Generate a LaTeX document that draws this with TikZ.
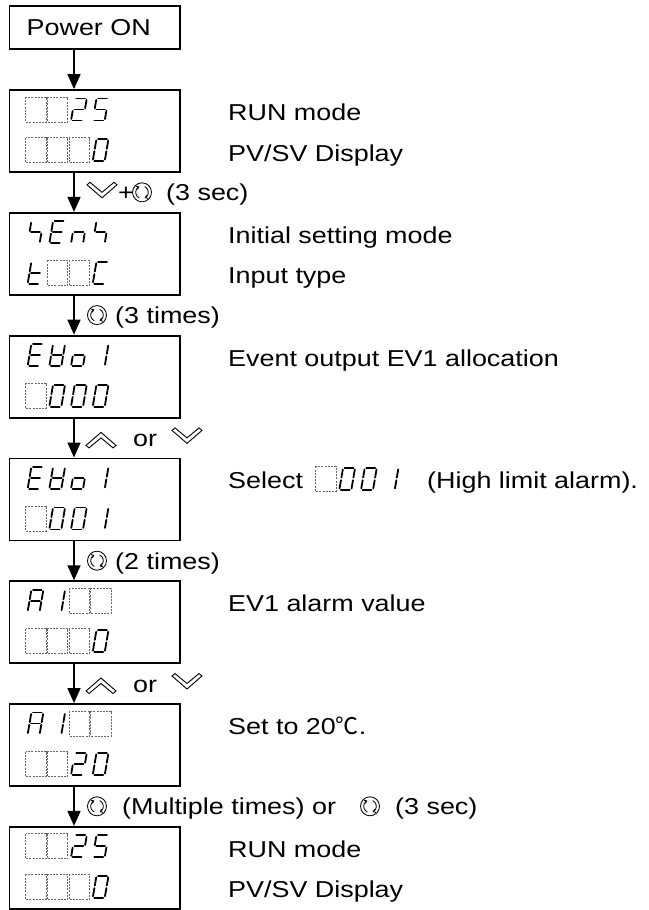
\documentclass[tikz,border=0pt]{standalone}
\usepackage{fontspec}
\setmainfont{Liberation Sans}[FakeStretch=1.17]
\newfontfamily\cjkfont{Noto Sans CJK JP}
\usetikzlibrary{arrows.meta}
\tikzset{
  box/.style={draw, line width=1.8pt, inner sep=0pt, minimum width=170.5pt},
  dispbox/.style={box, minimum height=82pt},
  arr/.style={line width=1.5pt, -{Triangle[length=15pt,width=13pt]}},
  lbl/.style={anchor=base west, inner sep=0pt, font=\fontsize{23}{27}\selectfont},
  seg/.style={line width=1.8pt, line cap=round},
  emptycell/.style={draw=black!60, line width=0.8pt, dash pattern=on 2pt off 1.2pt},
  chev/.style={line width=0.9pt, line join=miter},
  icon/.style={line width=0.85pt},
}
\newcommand\sega{\draw[seg] (-4.4,-11) -- (4.4,-11);}
\newcommand\segb{\draw[seg] (6,-9.5) -- (6,-1.3);}
\newcommand\segc{\draw[seg] (6,1.3) -- (6,9.5);}
\newcommand\segd{\draw[seg] (-4.4,11) -- (4.4,11);}
\newcommand\sege{\draw[seg] (-6,1.3) -- (-6,9.5);}
\newcommand\segf{\draw[seg] (-6,-9.5) -- (-6,-1.3);}
\newcommand\segg{\draw[seg] (-4.4,0) -- (4.4,0);}
\def\Dzero{a,b,c,d,e,f}
\def\Done{b,c}
\def\Dtwo{a,b,g,e,d}
\def\Dfive{a,f,g,c,d}
\def\DE{a,f,g,e,d}
\def\Dn{e,g,c}
\def\DS{f,g,c}
\def\Dt{f,e,g,d}
\def\DC{a,f,e,d}
\def\DV{b,c,d,e,f,g}
\def\Do{c,d,e,g}
\def\DA{a,b,c,e,f,g}
\newcommand\dgt[3]{\begin{scope}[shift={(#1,#2)},xslant=0.17]\edef\seglist{#3}\foreach \s in \seglist {\csname seg\s\endcsname}\end{scope}}
\newcommand\dd[4][25]{\pgfmathsetmacro\cx{#1+21.7*#2+10.5}\dgt{\cx}{#3}{#4}}
\newcommand\ee[3][25]{\pgfmathsetmacro\cx{#1+21.7*#2}\draw[emptycell] (\cx+0.6,#3-12.5) rectangle (\cx+21.1,#3+12.5);}
\newcommand\roticon[2]{\begin{scope}[shift={(#1,#2)}]
  \draw[icon] (0,0) circle[radius=9.5];
  \draw[icon,-{Straight Barb[length=2.2pt,width=3.5pt]}] (115:6.3) arc[start angle=115,end angle=245,radius=6.3];
  \draw[icon,-{Straight Barb[length=2.2pt,width=3.5pt]}] (295:6.3) arc[start angle=295,end angle=425,radius=6.3];
\end{scope}}
\newcommand\chevdown[2]{\draw[chev] (#1,#2-7.5) -- ++(15,13) -- ++(15,-13) -- ++(-3,-2.5) -- ++(-12,10) -- ++(-12,-10) -- cycle;}
\newcommand\chevup[2]{\draw[chev] (#1,#2+7.5) -- ++(15,-13) -- ++(15,13) -- ++(-3,2.5) -- ++(-12,-10) -- ++(-12,10) -- cycle;}
\begin{document}
\begin{tikzpicture}[x=1pt,y=-1pt]
\useasboundingbox (0,0) rectangle (648,910);
\coordinate (ax) at (74,0);
% boxes
\node[box, minimum height=42.5pt, font=\fontsize{23}{27}\selectfont] (b1) at (94.75,27.5) {\hspace*{-12pt}Power ON};
\node[dispbox] (b2) at (94.75,131) {};
\node[dispbox] (b3) at (94.75,253.8) {};
\node[dispbox] (b4) at (94.75,376.6) {};
\node[dispbox] (b5) at (94.75,499.4) {};
\node[dispbox] (b6) at (94.75,622.2) {};
\node[dispbox] (b7) at (94.75,745) {};
\node[dispbox] (b8) at (94.75,867.8) {};
% arrows
\draw[arr] (b1.south -| ax) -- (b2.north -| ax);
\draw[arr] (b2.south -| ax) -- (b3.north -| ax);
\draw[arr] (b3.south -| ax) -- (b4.north -| ax);
\draw[arr] (b4.south -| ax) -- (b5.north -| ax);
\draw[arr] (b5.south -| ax) -- (b6.north -| ax);
\draw[arr] (b6.south -| ax) -- (b7.north -| ax);
\draw[arr] (b7.south -| ax) -- (b8.north -| ax);
% displays
% b2
\ee{0}{109.5}\ee{1}{109.5}\dd{2}{109.5}{\Dtwo}\dd{3}{109.5}{\Dfive}
\ee{0}{150}\ee{1}{150}\ee{2}{150}\dd{3}{150}{\Dzero}
% b3
\dd{0}{232.3}{\DS}\dd{1}{232.3}{\DE}\dd{2}{232.3}{\Dn}\dd{3}{232.3}{\DS}
\dd{0}{272.8}{\Dt}\ee{1}{272.8}\ee{2}{272.8}\dd{3}{272.8}{\DC}
% b4
\dd{0}{355.1}{\DE}\dd{1}{355.1}{\DV}\dd{2}{355.1}{\Do}\dd{3}{355.1}{\Done}
\ee{0}{395.6}\dd{1}{395.6}{\Dzero}\dd{2}{395.6}{\Dzero}\dd{3}{395.6}{\Dzero}
% b5
\dd{0}{477.9}{\DE}\dd{1}{477.9}{\DV}\dd{2}{477.9}{\Do}\dd{3}{477.9}{\Done}
\ee{0}{518.4}\dd{1}{518.4}{\Dzero}\dd{2}{518.4}{\Dzero}\dd{3}{518.4}{\Done}
% b6
\dd{0}{600.7}{\DA}\dd{1}{600.7}{\Done}\ee{2}{600.7}\ee{3}{600.7}
\ee{0}{641.2}\ee{1}{641.2}\ee{2}{641.2}\dd{3}{641.2}{\Dzero}
% b7
\dd{0}{723.5}{\DA}\dd{1}{723.5}{\Done}\ee{2}{723.5}\ee{3}{723.5}
\ee{0}{764}\ee{1}{764}\dd{2}{764}{\Dtwo}\dd{3}{764}{\Dzero}
% b8
\ee{0}{846.3}\ee{1}{846.3}\dd{2}{846.3}{\Dtwo}\dd{3}{846.3}{\Dfive}
\ee{0}{886.8}\ee{1}{886.8}\ee{2}{886.8}\dd{3}{886.8}{\Dzero}
% right texts
\node[lbl] (t1) at (228,120.5) {RUN mode};
\node[lbl] (t2) at (228,161) {PV/SV Display};
\node[lbl] (t3) at (228,243.3) {Initial setting mode};
\node[lbl] (t4) at (228,283.8) {Input type};
\node[lbl] (t5) at (228,366.1) {Event output EV1 allocation};
\node[lbl] (t6) at (228,488.9) {Select};
\ee[315]{0}{478.9}\dd[315]{1}{478.9}{\Dzero}\dd[315]{2}{478.9}{\Dzero}\dd[315]{3}{478.9}{\Done}
\node[lbl] (t6b) at (427,488.9) {(High limit alarm).};
\node[lbl] (t7) at (228,611.7) {EV1 alarm value};
\node[lbl] (t8) at (228,734.5) {Set to 20{\cjkfont ℃}.};
\node[lbl] (t9) at (228,857.3) {RUN mode};
\node[lbl] (t10) at (228,897.8) {PV/SV Display};
% arrow labels
\chevdown{87}{192.3}
\node[lbl] (l1p) at (118,200.8) {+};
\roticon{142}{192.3}
\node[lbl] (l1) at (166,200.8) {(3 sec)};
\roticon{97}{315.1}
\node[lbl] (l2) at (115,323.6) {(3 times)};
\chevup{86}{437.9}
\node[lbl] (l3) at (133,446.4) {or};
\chevdown{172}{437.9}
\roticon{97}{560.7}
\node[lbl] (l4) at (115,569.2) {(2 times)};
\chevup{86}{683.5}
\node[lbl] (l5) at (133,692) {or};
\chevdown{172}{683.5}
\roticon{97}{806.3}
\node[lbl] (l6) at (122,814.8) {(Multiple times) or};
\roticon{370}{806.3}
\node[lbl] (l7) at (395,814.8) {(3 sec)};
\end{tikzpicture}
\end{document}
